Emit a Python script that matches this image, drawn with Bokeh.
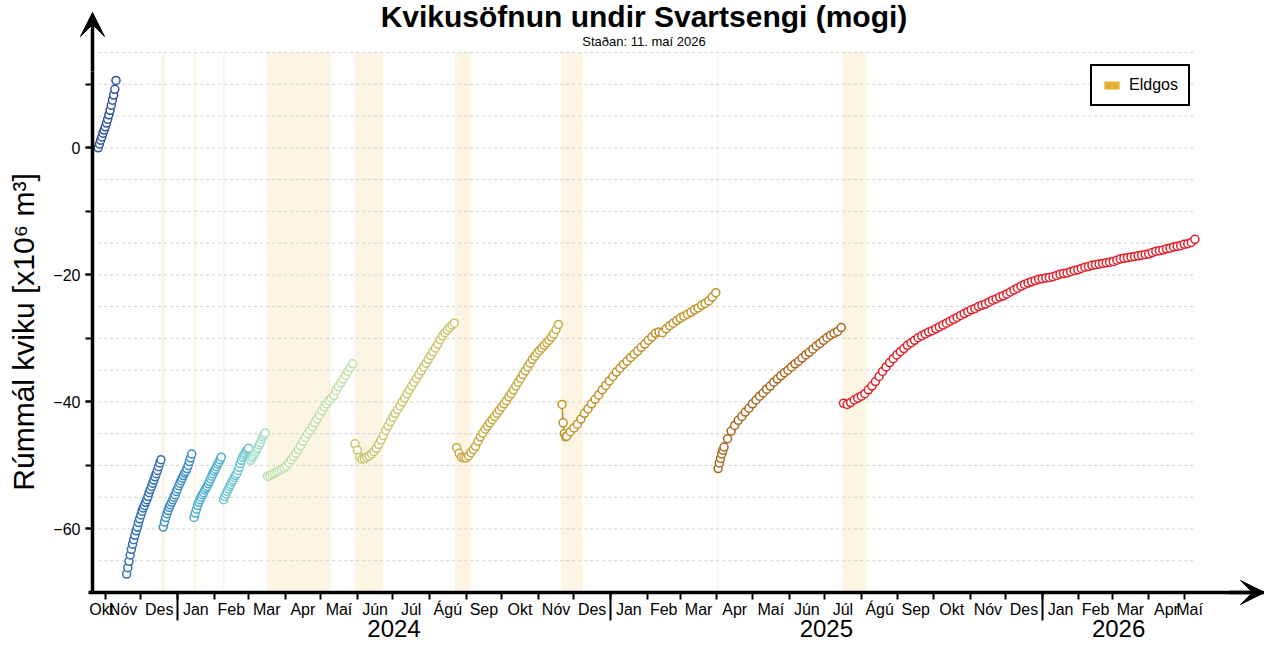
import pandas as pd
from bokeh.plotting import figure
from bokeh.models import (Range1d, LinearAxis, FixedTicker, Arrow, VeeHead, Label,
                          ColumnDataSource, Legend, LegendItem)
from bokeh.embed import file_html
from bokeh.resources import INLINE

FONT = "Liberation Sans"

TITLE = "Kvikusöfnun undir Svartsengi (mogi)"
SUBTITLE = "Staðan: 11. maí 2026"
Y_LABEL = "Rúmmál kviku [x10⁶ m³]"
LEGEND_LABEL = "Eldgos"

MONTH_NAMES = ["Jan", "Feb", "Mar", "Apr", "Maí", "Jún", "Júl", "Ágú", "Sep", "Okt", "Nóv", "Des"]
YEAR_LABELS = [2024, 2025, 2026]
Y_TICKS = [-60, -40, -20, 0]
Y_MINOR = [-60, -50, -40, -30, -20, -10, 0, 10]
GRID_Y = [-65, -60, -55, -50, -45, -40, -35, -30, -25, -20, -15, -10, -5, 0, 5, 10, 15]

# visible window and axis placement
X_START = "2023-08-04 09:07"
X_END = "2026-07-07 20:24"
Y_START, Y_END = -78.82, 23.19
Y_AXIS_AT = "2023-10-21 03:30"
X_AXIS_AT = -70
X_AXIS_FROM = "2023-10-17 19:00"
Y_AXIS_TOP = 12
Y_ARROW_TIP = 21.3

# Eruption periods (Eldgos)
ERUPT_START = ["2023-12-18 12:00", "2024-01-14 18:00", "2024-02-08 06:00", "2024-03-16 18:00",
               "2024-05-29 18:00", "2024-08-22 12:00", "2024-11-20 12:00", "2025-04-01 00:00",
               "2025-07-16 06:00"]
ERUPT_END = ["2023-12-21 06:00", "2024-01-16 18:00", "2024-02-09 18:00", "2024-05-09 12:00",
             "2024-06-22 20:00", "2024-09-05 06:00", "2024-12-08 18:00", "2025-04-02 00:00",
             "2025-08-05 12:00"]
ERUPT_BOTTOM = -70
ERUPT_TOP = 15

# Segments of magma accumulation (start date, day step, values)
S1_START, S1_STEP = "2023-10-26", 1
S1_VALUES = [0.0, 0.6, 1.2, 1.7, 2.3, 2.8, 3.3, 3.9, 4.5, 5.2, 5.9, 6.7, 7.5, 8.3, 9.2, 10.6]

S2_START, S2_STEP = "2023-11-19", 1
S2_VALUES = [-67.1, -66.1, -65.1, -64.1, -63.2, -62.4, -61.7, -61.0, -60.3, -59.7, -59.0, -58.4,
             -57.8, -57.2, -56.7, -56.3, -55.8, -55.4, -54.9, -54.3, -53.8, -53.3, -52.8, -52.3,
             -51.8, -51.3, -50.8, -50.2, -49.6, -49.1]

S3_START, S3_STEP = "2023-12-20", 1
S3_VALUES = [-59.7, -58.9, -58.2, -57.6, -57.1, -56.6, -56.2, -55.8, -55.4, -55.0, -54.6, -54.1,
             -53.7, -53.2, -52.8, -52.4, -52.0, -51.6, -51.2, -50.9, -50.5, -50.0, -49.4, -48.8,
             -48.2]

S4_START, S4_STEP = "2024-01-15", 1
S4_VALUES = [-58.2, -57.5, -56.9, -56.3, -55.8, -55.4, -55.0, -54.6, -54.3, -53.9, -53.6, -53.3,
             -52.9, -52.5, -52.1, -51.7, -51.3, -50.9, -50.6, -50.2, -49.8, -49.5, -49.1, -48.7]

S5A_START, S5A_STEP = "2024-02-09", 1
S5A_VALUES = [-55.4, -54.9, -54.5, -54.1, -53.7, -53.3, -53.0, -52.6, -52.3, -51.9, -51.6, -51.3,
              -50.8, -50.3, -49.7, -49.2, -48.7, -48.4, -48.1, -47.8, -47.5, -47.3]

S5B_START, S5B_STEP = "2024-03-03", 1
S5B_VALUES = [-49.2, -48.8, -48.5, -48.2, -47.9, -47.5, -47.2, -46.8, -46.4, -45.9, -45.5, -45.2,
              -44.9]

S6_START, S6_STEP = "2024-03-17", 2
S6_VALUES = [-51.7, -51.6, -51.4, -51.2, -51.0, -50.8, -50.6, -50.4, -50.1, -49.6, -49.1, -48.6,
             -48.1, -47.5, -46.9, -46.2, -45.6, -45.0, -44.5, -43.9, -43.3, -42.7, -42.1, -41.4,
             -40.8, -40.3, -39.8, -39.4, -39.0, -38.2, -37.6, -37.0, -36.4, -35.8, -35.2, -34.6,
             -34.0]

S7_START, S7_STEP = "2024-05-30", 2
S7_VALUES = [-46.6, -47.6, -48.7, -49.0, -48.9, -48.7, -48.5, -48.2, -47.8, -47.3, -46.7, -46.0,
             -45.3, -44.5, -43.8, -43.1, -42.4, -41.8, -41.2, -40.6, -40.0, -39.4, -38.7, -38.1,
             -37.5, -36.9, -36.3, -35.7, -35.1, -34.5, -33.9, -33.3, -32.7, -32.1, -31.5, -30.9,
             -30.2, -29.6, -29.1, -28.7, -28.3, -27.9, -27.6]

S8_START, S8_STEP = "2024-08-24", 2
S8_VALUES = [-47.2, -48.1, -48.7, -48.8, -48.8, -48.5, -48.0, -47.5, -47.0, -46.2, -45.5, -44.9,
             -44.3, -43.8, -43.3, -42.8, -42.3, -41.8, -41.3, -40.8, -40.3, -39.8, -39.2, -38.7,
             -38.1, -37.5, -36.9, -36.3, -35.7, -35.1, -34.5, -33.9, -33.3, -32.8, -32.3, -31.9,
             -31.5, -31.1, -30.7, -30.3, -29.8, -29.3, -28.6, -27.8]

S9_HEAD_START = "2024-11-21"
S9_HEAD = [-40.4, -43.3, -45.0, -45.5]
S9_START, S9_STEP = "2024-11-25", 3
S9_VALUES = [-45.4, -44.7, -44.1, -43.5, -42.7, -41.8, -41.1, -40.3, -39.6, -38.9, -38.1, -37.4,
             -36.7, -36.0, -35.3, -34.7, -34.1, -33.6, -33.0, -32.5, -32.0, -31.4, -30.9, -30.3,
             -29.8, -29.2, -29.0, -29.1, -28.5, -28.0, -27.6, -27.2, -26.8, -26.5, -26.2, -25.9,
             -25.5, -25.2, -24.8, -24.5, -24.1, -23.5, -22.8]

S10_HEAD_START = "2025-04-02"
S10_HEAD = [-50.5, -49.6, -48.9, -48.2, -47.6, -47.1]
S10_START, S10_STEP = "2025-04-10", 3
S10_VALUES = [-45.8, -44.6, -43.7, -42.9, -42.3, -41.6, -41.0, -40.3, -39.7, -39.1, -38.6, -38.0,
              -37.5, -36.9, -36.4, -35.9, -35.4, -35.0, -34.5, -34.0, -33.6, -33.1, -32.6, -32.2,
              -31.7, -31.2, -30.8, -30.3, -29.9, -29.5, -29.2, -28.9, -28.3]

S11_START, S11_STEP = "2025-07-17", 3
S11_VALUES = [-40.2, -40.4, -40.1, -39.7, -39.4, -39.1, -38.7, -38.1, -37.5, -36.8, -36.0, -35.2,
              -34.5, -33.8, -33.2, -32.6, -32.1, -31.6, -31.1, -30.7, -30.3, -29.9, -29.6, -29.3,
              -29.0, -28.8, -28.5, -28.2, -27.9, -27.6, -27.3, -27.0, -26.7, -26.4, -26.1, -25.8,
              -25.5, -25.3, -25.0, -24.8, -24.6, -24.3, -24.0, -23.8, -23.5, -23.3, -23.0, -22.7,
              -22.4, -22.1, -21.8, -21.5, -21.3, -21.1, -20.9, -20.7, -20.6, -20.5, -20.4, -20.3,
              -20.1, -19.9, -19.8, -19.7, -19.5, -19.3, -19.2, -19.0, -18.8, -18.7, -18.5, -18.4,
              -18.3, -18.2, -18.1, -18.0, -17.9, -17.7, -17.5, -17.4, -17.3, -17.2, -17.1, -17.0,
              -16.9, -16.8, -16.7, -16.5, -16.3, -16.2, -16.1, -15.9, -15.8, -15.6, -15.5, -15.4,
              -15.2, -15.1, -14.9, -14.4]

SEG_COLORS = ["#2a4f9f", "#2e6cb3", "#3a8cc4", "#49adcd", "#6cc6cf", "#a6dcca", "#c0dfa4",
              "#cbc46b", "#c6a83c", "#bf9126", "#a8661e", "#e01f28"]

ERUPT_COLOR = "#e8b030"
GRID_COLOR = "#d0d0d0"


def ms(t):
    return (pd.Timestamp(t) - pd.Timestamp("1970-01-01")) / pd.Timedelta(milliseconds=1)


def seg_dates(start, step, n):
    s = pd.Timestamp(start)
    return [ms(s + pd.Timedelta(days=step * i)) for i in range(n)]


segments = [
    (seg_dates(S1_START, S1_STEP, len(S1_VALUES)), S1_VALUES),
    (seg_dates(S2_START, S2_STEP, len(S2_VALUES)), S2_VALUES),
    (seg_dates(S3_START, S3_STEP, len(S3_VALUES)), S3_VALUES),
    (seg_dates(S4_START, S4_STEP, len(S4_VALUES)), S4_VALUES),
    (seg_dates(S5A_START, S5A_STEP, len(S5A_VALUES)), S5A_VALUES),
    (seg_dates(S5B_START, S5B_STEP, len(S5B_VALUES)), S5B_VALUES),
    (seg_dates(S6_START, S6_STEP, len(S6_VALUES)), S6_VALUES),
    (seg_dates(S7_START, S7_STEP, len(S7_VALUES)), S7_VALUES),
    (seg_dates(S8_START, S8_STEP, len(S8_VALUES)), S8_VALUES),
    (seg_dates(S9_HEAD_START, 1, len(S9_HEAD)) + seg_dates(S9_START, S9_STEP, len(S9_VALUES)),
     S9_HEAD + S9_VALUES),
    (seg_dates(S10_HEAD_START, 1, len(S10_HEAD)) + seg_dates(S10_START, S10_STEP, len(S10_VALUES)),
     S10_HEAD + S10_VALUES),
    (seg_dates(S11_START, S11_STEP, len(S11_VALUES)), S11_VALUES),
]

data_start = segments[0][0][0]
data_end = segments[-1][0][-1]

x0, x1 = ms(X_START), ms(X_END)
y_axis_x = ms(Y_AXIS_AT)

p = figure(width=1264, height=648, output_backend="svg", toolbar_location=None,
           x_axis_type=None, y_axis_type=None,
           x_range=Range1d(x0, x1), y_range=Range1d(Y_START, Y_END),
           min_border=0, min_border_left=0, min_border_right=0, min_border_top=0,
           min_border_bottom=0,
           outline_line_color=None, background_fill_color="white", border_fill_color="white")

# eruption bands
p.quad(left=[ms(t) for t in ERUPT_START], right=[ms(t) for t in ERUPT_END],
       bottom=[ERUPT_BOTTOM] * len(ERUPT_START), top=[ERUPT_TOP] * len(ERUPT_START),
       fill_color=ERUPT_COLOR, fill_alpha=0.13, line_color=None)

# dashed grid lines
p.segment(x0=[data_start] * len(GRID_Y), x1=[data_end] * len(GRID_Y), y0=GRID_Y, y1=GRID_Y,
          line_color=GRID_COLOR, line_width=1, line_dash="3 3")

# data
for (xs, ys), col in zip(segments, SEG_COLORS):
    src = ColumnDataSource(dict(x=xs, y=ys))
    p.line("x", "y", source=src, line_color=col, line_width=1.5)
    p.scatter("x", "y", source=src, marker="circle", size=8, fill_color="white",
              line_color=col, line_width=1.5)

# legend (zero-height swatch renderer)
leg_r = p.quad(left=[ms(ERUPT_START[0])], right=[ms(ERUPT_END[0])], top=[ERUPT_TOP],
               bottom=[ERUPT_TOP], fill_color=ERUPT_COLOR, fill_alpha=1, line_color=None)
legend = Legend(items=[LegendItem(label=LEGEND_LABEL, renderers=[leg_r])],
                location=(1090, 542), margin=0, padding=10, spacing=0,
                glyph_width=19, glyph_height=10, label_standoff=8,
                label_text_font=FONT, label_text_font_size="16px", label_text_color="black",
                border_line_color="black", border_line_width=2.5, border_line_alpha=1,
                background_fill_color="white", background_fill_alpha=1)
p.add_layout(legend)

# y axis
yaxis = LinearAxis(ticker=FixedTicker(ticks=Y_TICKS, minor_ticks=Y_MINOR),
                   fixed_location=y_axis_x, bounds=(X_AXIS_AT, Y_AXIS_TOP),
                   axis_label=Y_LABEL, axis_label_text_font=FONT, axis_label_text_color="black",
                   axis_label_text_font_size="30px", axis_label_text_font_style="normal",
                   axis_label_standoff=10,
                   major_label_text_font=FONT, major_label_text_font_size="16px",
                   major_label_text_color="black", major_label_standoff=5,
                   major_label_overrides={v: (f"\u2212{abs(v)}" if v < 0 else str(v)) for v in Y_TICKS},
                   axis_line_width=3.5, major_tick_line_width=2, minor_tick_line_width=2,
                   major_tick_out=7, major_tick_in=0, minor_tick_out=7, minor_tick_in=0)
p.add_layout(yaxis, "left")

# x axis: months
month_bounds = list(pd.date_range("2023-11-01", "2026-05-01", freq="MS"))
month_starts = list(pd.date_range("2023-10-01", "2026-05-01", freq="MS"))
month_centers, month_labels = [], {}
for m in month_starts:
    a = max(ms(m), data_start)
    b = min(ms(m + pd.offsets.MonthBegin(1)), data_end)
    c = (a + b) / 2
    month_centers.append(c)
    month_labels[c] = MONTH_NAMES[m.month - 1]

xaxis = LinearAxis(ticker=FixedTicker(ticks=month_centers, minor_ticks=[ms(m) for m in month_bounds]),
                   fixed_location=X_AXIS_AT, bounds=(ms(X_AXIS_FROM), x1),
                   major_label_overrides=month_labels,
                   major_tick_out=0, major_tick_in=0, minor_tick_out=7, minor_tick_in=0,
                   minor_tick_line_width=2, axis_line_width=3.5,
                   major_label_text_font=FONT, major_label_text_font_size="16px",
                   major_label_text_color="black", major_label_standoff=2)
p.add_layout(xaxis, "below")

# x axis: years
year_centers, year_labels, year_bounds = [], {}, []
for y in YEAR_LABELS:
    a = max(ms(f"{y}-01-01"), data_start)
    b = min(ms(f"{y + 1}-01-01"), data_end)
    c = (a + b) / 2
    year_centers.append(c)
    year_labels[c] = str(y)
    year_bounds.append(ms(f"{y}-01-01"))

xaxis2 = LinearAxis(ticker=FixedTicker(ticks=year_centers, minor_ticks=year_bounds),
                    fixed_location=X_AXIS_AT, bounds=(ms(X_AXIS_FROM), x1),
                    major_label_overrides=year_labels, axis_line_color=None,
                    major_tick_line_color=None, major_tick_out=0, major_tick_in=0,
                    minor_tick_in=0, minor_tick_out=28, minor_tick_line_width=2,
                    major_label_text_font=FONT, major_label_text_font_size="24px",
                    major_label_text_color="black", major_label_standoff=0)
p.add_layout(xaxis2, "below")

# axis arrows
p.add_layout(Arrow(end=VeeHead(size=24, fill_color="black", line_color="black", line_width=1),
                   x_start=y_axis_x, y_start=Y_AXIS_TOP, x_end=y_axis_x, y_end=Y_ARROW_TIP,
                   line_width=3.5, line_color="black"))
p.add_layout(Arrow(end=VeeHead(size=24, fill_color="black", line_color="black", line_width=1),
                   x_start=x1 - 30 * 86400000, y_start=X_AXIS_AT, x_end=x1, y_end=X_AXIS_AT,
                   line_width=3.5, line_color="black"))

# titles (screen units from the frame's bottom-left)
p.add_layout(Label(x=643.5, y=632, x_units="screen", y_units="screen", text=TITLE,
                   text_align="center", text_baseline="middle", text_font=FONT,
                   text_font_size="30px", text_font_style="bold", text_color="black"))
p.add_layout(Label(x=643.5, y=607, x_units="screen", y_units="screen", text=SUBTITLE,
                   text_align="center", text_baseline="middle", text_font=FONT,
                   text_font_size="13px", text_color="black"))

open("out.html", "w").write(file_html(p, INLINE))
